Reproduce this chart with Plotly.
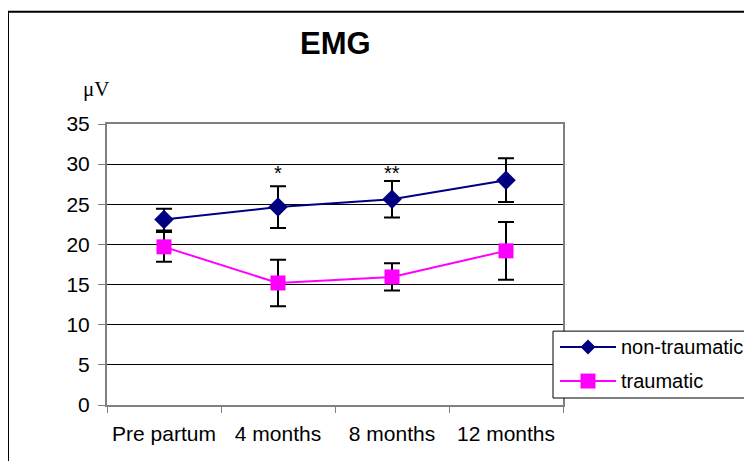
import plotly.graph_objects as go

categories = ["Pre partum", "4 months", "8 months", "12 months"]
non_traumatic = [23.1, 24.66, 25.62, 28.0]
non_traumatic_err = [1.35, 2.6, 2.27, 2.72]
traumatic = [19.7, 15.2, 15.95, 19.2]
traumatic_err = [1.85, 2.9, 1.7, 3.6]
significance = ["", "*", "**", ""]
sig_y = [0, 28.9, 28.9, 0]

W, H = 752, 461
OFF = 8  # page body margin
# plot area in page pixel coordinates
PL, PR, PT, PB = 107, 563, 123.5, 405
L, R, T, B = PL - OFF, PR - OFF, PT - OFF, PB - OFF

def px(x):
    return (x - PL) / (PR - PL)

def py(y):
    return (PB - y) / (PB - PT)

FONT = "Liberation Sans, Arial, sans-serif"
NAVY = "#000080"
MAG = "#FF00FF"
GRAY = "#808080"

fig = go.Figure()
fig.add_trace(go.Scatter(
    x=categories, y=non_traumatic, name="non-traumatic", mode="lines+markers",
    line=dict(color=NAVY, width=2),
    marker=dict(symbol="diamond", size=15, color=NAVY),
    error_y=dict(type="data", array=non_traumatic_err, color="black", thickness=2, width=8),
    showlegend=False,
))
fig.add_trace(go.Scatter(
    x=categories, y=traumatic, name="traumatic", mode="lines+markers",
    line=dict(color=MAG, width=2),
    marker=dict(symbol="square", size=15, color=MAG),
    error_y=dict(type="data", array=traumatic_err, color="black", thickness=2, width=8),
    showlegend=False,
))

for c, s, y in zip(categories, significance, sig_y):
    if s:
        fig.add_annotation(x=c, y=y, text=s, showarrow=False,
                           font=dict(family=FONT, size=20, color="black"))

shapes = []
# outer chart border
shapes.append(dict(type="rect", xref="paper", yref="paper",
                   x0=px(8), y0=py(480), x1=px(780), y1=py(11),
                   line=dict(color="black", width=2), fillcolor="rgba(0,0,0,0)", layer="below"))
# legend box
shapes.append(dict(type="rect", xref="paper", yref="paper",
                   x0=px(553), y0=py(398), x1=px(780), y1=py(331),
                   line=dict(color="black", width=1), fillcolor="white"))
legend_items = [("non-traumatic", NAVY, 347, "diamond"), ("traumatic", MAG, 381, "square")]
for name, col, yy, sym in legend_items:
    shapes.append(dict(type="line", xref="paper", yref="paper",
                       x0=px(560), x1=px(616), y0=py(yy), y1=py(yy),
                       line=dict(color=col, width=2)))
    cx = 588
    h = 7.5
    if sym == "diamond":
        pts = [(cx, yy - h), (cx + h, yy), (cx, yy + h), (cx - h, yy)]
        path = "M " + " L ".join(f"{px(a)},{py(b)}" for a, b in pts) + " Z"
        shapes.append(dict(type="path", xref="paper", yref="paper", path=path,
                           fillcolor=col, line=dict(color=col, width=0)))
    else:
        shapes.append(dict(type="rect", xref="paper", yref="paper",
                           x0=px(cx - h), x1=px(cx + h), y0=py(yy + h), y1=py(yy - h),
                           fillcolor=col, line=dict(color=col, width=0)))
    fig.add_annotation(xref="paper", yref="paper", x=px(619), y=py(yy), text=name,
                       showarrow=False, xanchor="left", yanchor="middle",
                       font=dict(family=FONT, size=20, color="black"))

fig.add_annotation(xref="paper", yref="paper", x=px(335), y=py(43), text="<b>EMG</b>",
                   showarrow=False, xanchor="center", yanchor="middle",
                   font=dict(family=FONT, size=31, color="black"))
fig.add_annotation(xref="paper", yref="paper", x=px(96), y=py(88), text="μV",
                   showarrow=False, xanchor="center", yanchor="middle",
                   font=dict(family="Liberation Serif, Times New Roman, serif", size=21, color="black"))

fig.update_layout(
    width=W, height=H,
    margin=dict(l=L, r=W - R, t=T, b=H - B, pad=0),
    paper_bgcolor="white", plot_bgcolor="white",
    font=dict(family=FONT, size=21, color="black"),
    shapes=shapes,
    showlegend=False,
)
fig.update_xaxes(
    type="category", range=[-0.5, 3.5], showgrid=False,
    showline=True, linecolor=GRAY, linewidth=2, mirror=True,
    ticks="outside", tickson="boundaries", ticklen=6, tickcolor=GRAY, tickwidth=1,
    ticklabelstandoff=9,
    tickfont=dict(family=FONT, size=21, color="black"),
)
fig.update_yaxes(
    range=[0, 35], dtick=5, showgrid=True, gridcolor="black", gridwidth=1,
    showline=True, linecolor=GRAY, linewidth=2, mirror=True, zeroline=False,
    ticks="outside", ticklen=7, tickcolor=GRAY, tickwidth=1,
    ticklabelstandoff=4,
    tickfont=dict(family=FONT, size=21, color="black"),
)

fig.write_html("out.html")
